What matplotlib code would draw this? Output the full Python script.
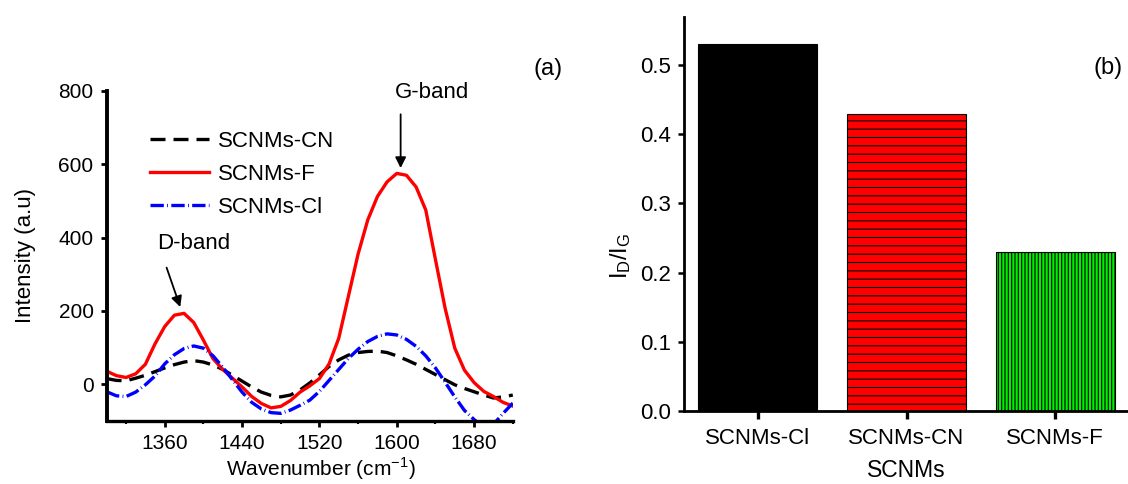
"""Raman spectra of the SCNMs samples (a) and their I_D/I_G ratios (b)."""

import matplotlib
matplotlib.use("Agg")  # headless
import matplotlib.pyplot as plt
from matplotlib.ticker import FormatStrFormatter, MultipleLocator

plt.rcParams["font.family"] = ["Liberation Sans", "DejaVu Sans"]
plt.rcParams["mathtext.fontset"] = "custom"
plt.rcParams["mathtext.rm"] = "Liberation Sans"
plt.rcParams["hatch.linewidth"] = 0.8

# ---- (a) Raman spectra, every 10 cm^-1 ----
wavenumber = list(range(1300, 1721, 10))
int_cn = [15, 10, 9, 16, 24, 34, 44, 53, 60, 64, 60, 52, 40, 24, 8, -8, -22,
          -31, -35, -30, -16, 3, 25, 48, 66, 79, 86, 89, 90, 86, 77, 66, 54,
          40, 26, 12, -2, -12, -21, -30, -38, -35, -30]
int_f = [35, 23, 18, 28, 54, 110, 157, 188, 193, 168, 120, 69, 40, 16, -8,
         -34, -53, -65, -61, -45, -22, -5, 15, 55, 125, 240, 355, 448, 512,
         552, 575, 570, 538, 475, 340, 207, 98, 38, 4, -20, -34, -50, -60]
int_cl = [-21, -32, -34, -22, -2, 22, 55, 80, 97, 104, 98, 77, 46, 12, -22,
          -50, -68, -78, -80, -71, -58, -44, -20, 10, 40, 70, 95, 116, 130,
          137, 134, 122, 103, 77, 44, 5, -35, -72, -97, -118, -110, -80, -52]

# ---- (b) intensity ratios ----
samples = ["SCNMs-Cl", "SCNMs-CN", "SCNMs-F"]
id_ig = [0.53, 0.43, 0.23]
bar_colors = ["#000000", "#ff0000", "#00ee00"]
bar_hatches = [None, "--", "|||||"]

fig = plt.figure(figsize=(11.28, 4.84), dpi=100)

# ----- panel (a) -----
ax = fig.add_axes([0.0946, 0.1308, 0.36, 0.6812])
ax.plot(wavenumber, int_cn, color="black", lw=2.4, ls=(0, (4.5, 2.4)),
        label="SCNMs-CN")
ax.plot(wavenumber, int_f, color="#ff0000", lw=2.4, label="SCNMs-F")
ax.plot(wavenumber, int_cl, color="#0000ff", lw=2.4,
        ls=(0, (4, 1.0, 0.25, 1.0)), label="SCNMs-Cl")
ax.set_xlim(1300, 1720)
ax.set_ylim(-100, 800)
ax.set_xticks([1360, 1440, 1520, 1600, 1680])
ax.xaxis.set_minor_locator(MultipleLocator(40))
ax.yaxis.set_major_locator(MultipleLocator(200))
for side in ("top", "right"):
    ax.spines[side].set_visible(False)
ax.spines["left"].set_linewidth(2.8)
ax.spines["bottom"].set_linewidth(2.4)
ax.tick_params(which="major", length=4.5, width=2, pad=5, labelsize=15)
ax.tick_params(which="minor", length=2.5, width=1.5)
ax.set_ylabel("Intensity (a.u)", fontsize=16)
ax.yaxis.set_label_coords(-0.174, 0.5)
ax.set_xlabel("Wavenumber (cm$^{-1}$)", fontsize=15)
ax.xaxis.set_label_coords(0.528, -0.105)
ax.legend(loc="upper left", bbox_to_anchor=(0.107, 0.88), frameon=False,
          fontsize=16, borderpad=0, borderaxespad=0, labelspacing=0.55,
          handlelength=2.65, handletextpad=0.4)

arrow = dict(arrowstyle="-|>", color="black", lw=1.3, mutation_scale=16)
ax.annotate("G-band", xy=(1604, 582), xytext=(1636, 797), ha="center",
            va="center", fontsize=16)
ax.annotate("", xy=(1604, 582), xytext=(1604, 744), arrowprops=arrow)
ax.annotate("D-band", xy=(1377, 203), xytext=(1390, 384), ha="center",
            va="center", fontsize=16)
ax.annotate("", xy=(1377, 203), xytext=(1361, 325), arrowprops=arrow)
fig.text(0.4858, 0.8574, "(a)", ha="center", va="center", fontsize=17)

# ----- panel (b) -----
bx = fig.add_axes([0.606, 0.1508, 0.3954, 0.8147])
bars = bx.bar(range(len(samples)), id_ig, width=0.8, color=bar_colors,
              edgecolor="black", lw=0.8)
for bar, h in zip(bars, bar_hatches):
    if h:
        bar.set_hatch(h)
bx.set_xlim(-0.5, 2.5)
bx.set_ylim(0, 0.57)
bx.set_xticks(range(len(samples)))
bx.set_xticklabels(samples)
bx.yaxis.set_major_locator(MultipleLocator(0.1))
bx.yaxis.set_major_formatter(FormatStrFormatter("%.1f"))
for side in ("top", "right"):
    bx.spines[side].set_visible(False)
for side in ("left", "bottom"):
    bx.spines[side].set_linewidth(2)
bx.tick_params(axis="y", length=4, width=1.8, pad=5, labelsize=16)
bx.tick_params(axis="x", length=6, width=2.4, pad=6, labelsize=16)
bx.set_ylabel(r"$\mathregular{I_D/I_G}$", fontsize=17)
bx.yaxis.set_label_coords(-0.113, 0.393)
bx.set_xlabel("SCNMs", fontsize=16.5)
bx.xaxis.set_label_coords(0.499, -0.122)
fig.text(0.9823, 0.8595, "(b)", ha="center", va="center", fontsize=17)

fig.savefig("out.png", dpi=100)
